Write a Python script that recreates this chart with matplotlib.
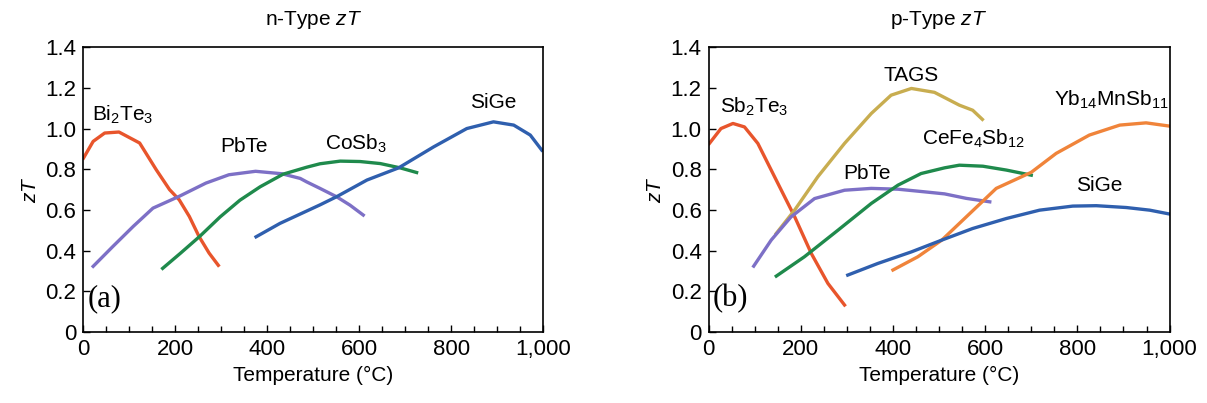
import matplotlib
matplotlib.use('Agg')
import matplotlib.pyplot as plt
from matplotlib.ticker import MultipleLocator, FuncFormatter

plt.rcParams['font.family'] = ['Liberation Sans', 'DejaVu Sans']
plt.rcParams['mathtext.fontset'] = 'custom'
plt.rcParams['mathtext.rm'] = 'Liberation Sans'
plt.rcParams['mathtext.it'] = 'Liberation Sans:italic'

# n-type curves (temperature in C, zT)
bi2te3_t = [1, 22, 47, 78, 123, 159, 188, 209, 231, 252, 274, 294]
bi2te3_z = [0.855, 0.937, 0.978, 0.983, 0.929, 0.798, 0.70, 0.65, 0.568, 0.47, 0.388, 0.328]
pbte_n_t = [22, 65, 109, 152, 209, 267, 317, 375, 432, 472, 486, 515, 551, 580, 609]
pbte_n_z = [0.323, 0.421, 0.519, 0.609, 0.667, 0.732, 0.773, 0.79, 0.778, 0.755, 0.738, 0.706, 0.665, 0.624, 0.575]
cosb3_t = [173, 211, 254, 298, 341, 385, 435, 486, 515, 559, 602, 646, 689, 725]
cosb3_z = [0.313, 0.386, 0.471, 0.566, 0.648, 0.714, 0.776, 0.81, 0.827, 0.84, 0.838, 0.828, 0.807, 0.784]
sige_n_t = [376, 428, 472, 515, 551, 617, 686, 762, 834, 892, 936, 972, 997]
sige_n_z = [0.468, 0.534, 0.58, 0.625, 0.665, 0.747, 0.807, 0.91, 1.0, 1.033, 1.017, 0.968, 0.894]

# p-type curves
sb2te3_t = [2, 27, 53, 78, 107, 136, 165, 187, 223, 259, 295]
sb2te3_z = [0.927, 1.0, 1.025, 1.008, 0.927, 0.796, 0.665, 0.566, 0.386, 0.239, 0.133]
tags_t = [147, 187, 237, 295, 353, 396, 440, 490, 544, 573, 594]
tags_z = [0.485, 0.60, 0.763, 0.927, 1.074, 1.164, 1.197, 1.178, 1.115, 1.09, 1.045]
pbte_p_t = [98, 136, 179, 230, 295, 353, 411, 469, 512, 559, 610]
pbte_p_z = [0.324, 0.452, 0.566, 0.656, 0.697, 0.706, 0.702, 0.689, 0.679, 0.657, 0.64]
cefe_t = [147, 208, 281, 353, 411, 461, 512, 544, 595, 646, 700]
cefe_z = [0.275, 0.37, 0.501, 0.632, 0.722, 0.779, 0.807, 0.82, 0.815, 0.796, 0.771]
yb_t = [400, 454, 506, 559, 624, 700, 754, 826, 892, 949, 1000]
yb_z = [0.305, 0.37, 0.452, 0.566, 0.706, 0.785, 0.878, 0.968, 1.017, 1.028, 1.012]
sige_p_t = [302, 367, 440, 506, 573, 646, 718, 790, 841, 906, 957, 1000]
sige_p_z = [0.28, 0.337, 0.394, 0.452, 0.509, 0.558, 0.599, 0.619, 0.621, 0.612, 0.599, 0.58]

RED = '#e8552c'
PURPLE = '#7d70c6'
GREEN = '#1f8a4c'
BLUE = '#2f5fae'
OLIVE = '#c8ad50'
ORANGE = '#f0843a'

fig = plt.figure(figsize=(12.07, 4.03), dpi=100)
ax1 = fig.add_axes([0.0688, 0.176, 0.3812, 0.707])
ax2 = fig.add_axes([0.587, 0.176, 0.382, 0.707])

lw = 2.4
ax1.plot(bi2te3_t, bi2te3_z, color=RED, lw=lw)
ax1.plot(pbte_n_t, pbte_n_z, color=PURPLE, lw=lw)
ax1.plot(cosb3_t, cosb3_z, color=GREEN, lw=lw)
ax1.plot(sige_n_t, sige_n_z, color=BLUE, lw=lw)

ax2.plot(sb2te3_t, sb2te3_z, color=RED, lw=lw)
ax2.plot(tags_t, tags_z, color=OLIVE, lw=lw)
ax2.plot(pbte_p_t, pbte_p_z, color=PURPLE, lw=lw)
ax2.plot(cefe_t, cefe_z, color=GREEN, lw=lw)
ax2.plot(yb_t, yb_z, color=ORANGE, lw=lw)
ax2.plot(sige_p_t, sige_p_z, color=BLUE, lw=lw)

fs = 15
ax1.text(87, 1.065, r'Bi$_2$Te$_3$', fontsize=fs, ha='center', va='center')
ax1.text(349, 0.91, 'PbTe', fontsize=fs, ha='center', va='center')
ax1.text(593, 0.926, r'CoSb$_3$', fontsize=fs, ha='center', va='center')
ax1.text(892, 1.13, 'SiGe', fontsize=fs, ha='center', va='center')
ax1.text(10, 0.165, '(a)', fontsize=22, family='Liberation Serif', va='center')

ax2.text(99, 1.106, r'Sb$_2$Te$_3$', fontsize=fs, ha='center', va='center')
ax2.text(440, 1.261, 'TAGS', fontsize=fs, ha='center', va='center')
ax2.text(874, 1.139, r'Yb$_{14}$MnSb$_{11}$', fontsize=fs, ha='center', va='center')
ax2.text(575, 0.951, r'CeFe$_4$Sb$_{12}$', fontsize=fs, ha='center', va='center')
ax2.text(343, 0.779, 'PbTe', fontsize=fs, ha='center', va='center')
ax2.text(848, 0.722, 'SiGe', fontsize=fs, ha='center', va='center')
ax2.text(10, 0.165, '(b)', fontsize=22, family='Liberation Serif', va='center')

def ylab(v, pos):
    return '0' if v == 0 else f'{v:.1f}'

for ax, title in [(ax1, 'n-Type $zT$'), (ax2, 'p-Type $zT$')]:
    ax.set_xlim(0, 1000)
    ax.set_ylim(0, 1.4)
    ax.xaxis.set_major_locator(MultipleLocator(200))
    ax.xaxis.set_minor_locator(MultipleLocator(50))
    ax.yaxis.set_major_locator(MultipleLocator(0.2))
    ax.xaxis.set_major_formatter(FuncFormatter(lambda v, p: f'{int(v):,}'))
    ax.yaxis.set_major_formatter(FuncFormatter(ylab))
    ax.tick_params(which='both', direction='in', labelsize=16, top=False, right=False)
    ax.tick_params(which='major', length=5, width=1, pad=5)
    ax.tick_params(which='minor', length=4, width=1)
    ax.set_xlabel('Temperature (°C)', fontsize=15, labelpad=4)
    ax.set_ylabel('$zT$', fontsize=15, labelpad=4)
    ax.set_title(title, fontsize=15, pad=16)
    for s in ax.spines.values():
        s.set_linewidth(1.2)

plt.savefig('out.png', dpi=100)
